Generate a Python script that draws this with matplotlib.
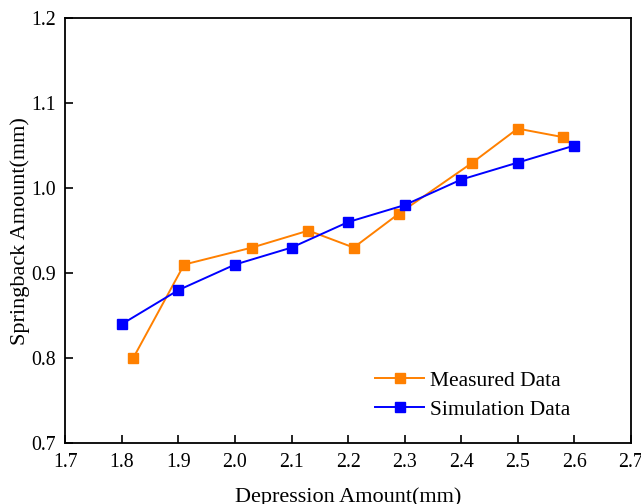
import matplotlib.pyplot as plt

plt.rcParams['font.family'] = ['Liberation Serif', 'DejaVu Serif']

measured_x = [1.82, 1.91, 2.03, 2.13, 2.21, 2.29, 2.42, 2.50, 2.58]
measured_y = [0.80, 0.91, 0.93, 0.95, 0.93, 0.97, 1.03, 1.07, 1.06]
sim_x = [1.8, 1.9, 2.0, 2.1, 2.2, 2.3, 2.4, 2.5, 2.6]
sim_y = [0.84, 0.88, 0.91, 0.93, 0.96, 0.98, 1.01, 1.03, 1.05]

fig = plt.figure(figsize=(6.41, 5.04), dpi=100)
ax = fig.add_axes([0.102, 0.121, 0.882, 0.843])

ax.plot(measured_x, measured_y, color='#FF8000', marker='s', markersize=7.5,
        linewidth=1.4, label='Measured Data')
ax.plot(sim_x, sim_y, color='#0000FF', marker='s', markersize=7.5,
        linewidth=1.4, label='Simulation Data')

ax.set_xlim(1.7, 2.7)
ax.set_ylim(0.7, 1.2)
ax.set_xticks([1.7, 1.8, 1.9, 2.0, 2.1, 2.2, 2.3, 2.4, 2.5, 2.6, 2.7])
ax.set_yticks([0.7, 0.8, 0.9, 1.0, 1.1, 1.2])
ax.xaxis.set_major_formatter(plt.FormatStrFormatter('%.1f'))
ax.yaxis.set_major_formatter(plt.FormatStrFormatter('%.1f'))
ax.tick_params(direction='in', length=6, width=1.2, labelsize=14.3, pad=7)
for s in ax.spines.values():
    s.set_linewidth(1.3)

ax.set_xlabel('Depression Amount(mm)', fontsize=16, labelpad=11)
ax.set_ylabel('Springback Amount(mm)', fontsize=16, labelpad=1)

ax.legend(loc='upper left', frameon=False, fontsize=15.5, handlelength=2.3,
          handletextpad=0.25, labelspacing=0.4, borderaxespad=0,
          bbox_to_anchor=(0.532, 0.19))

fig.savefig('out.png', dpi=100)
